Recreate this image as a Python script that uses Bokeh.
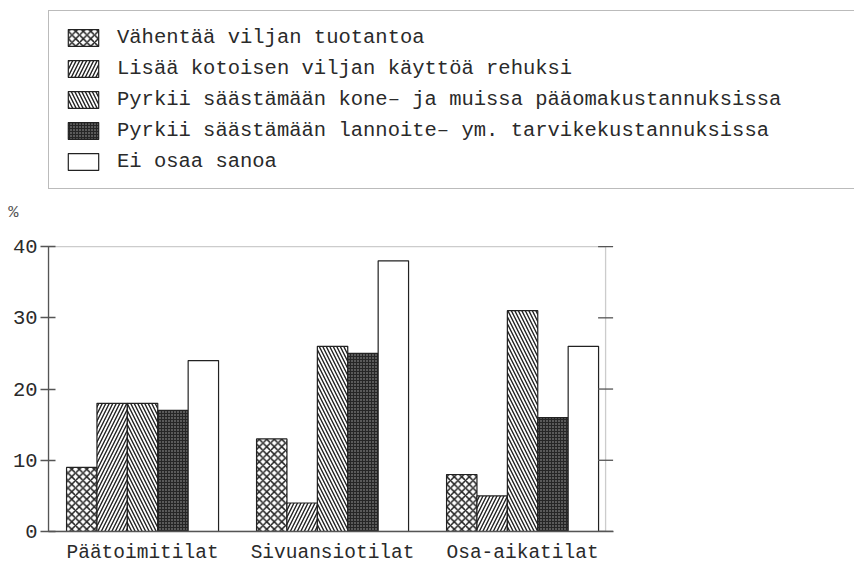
from bokeh.plotting import figure
from bokeh.models import (Range1d, FixedTicker, LinearAxis, Legend, LegendItem,
                          BoxAnnotation)
from bokeh.embed import file_html
from bokeh.resources import INLINE

categories = ["Päätoimitilat", "Sivuansiotilat", "Osa-aikatilat"]
series_names = [
    "Vähentää viljan tuotantoa",
    "Lisää kotoisen viljan käyttöä rehuksi",
    "Pyrkii säästämään kone– ja muissa pääomakustannuksissa",
    "Pyrkii säästämään lannoite– ym. tarvikekustannuksissa",
    "Ei osaa sanoa",
]
vahentaa = [9, 13, 8]
lisaa = [18, 4, 5]
kone = [18, 26, 31]
lannoite = [17, 25, 16]
ei_osaa = [24, 38, 26]
y_ticks = [0, 10, 20, 30, 40]
y_max = 40
unit_label = "%"

series = [vahentaa, lisaa, kone, lannoite, ei_osaa]
styles = [
    dict(fill_color="white", hatch_pattern="diagonal_cross", hatch_scale=7.5, hatch_weight=1.5, hatch_color="#222"),
    dict(fill_color="white", hatch_pattern="right_diagonal_line", hatch_scale=7, hatch_weight=1.4, hatch_color="#222"),
    dict(fill_color="white", hatch_pattern="left_diagonal_line", hatch_scale=7, hatch_weight=1.4, hatch_color="#222"),
    dict(fill_color="#5a5a5a", hatch_pattern="+", hatch_scale=3, hatch_weight=1.0, hatch_color="#262626"),
    dict(fill_color="white"),
]

FONT = "Liberation Mono"
TXT = "#2a2a2a"
AX = "#555"

# layout constants (pixels -> data)
X0, X1 = -0.495, 3.747          # frame spans full width right of the y axis
BOX_RIGHT = 2.437               # right edge of plot box
Y1 = 73.15                      # frame extends up to hold the legend
PCT_Y = 44.75                   # vertical position of the unit label

p = figure(width=854, height=566, output_backend="svg", toolbar_location=None,
           title=None, x_range=Range1d(X0, X1), y_range=Range1d(0, Y1),
           min_border_left=48, min_border_right=0, min_border_top=10, min_border_bottom=33)
p.xgrid.visible = False
p.ygrid.visible = False
p.outline_line_color = None
p.background_fill_color = "white"
p.border_fill_color = "white"

bw = 0.16
items = []
for k, (vals, name, st) in enumerate(zip(series, series_names, styles)):
    xs = [i + (k - 2) * bw for i in range(len(categories))]
    r = p.vbar(x=xs, top=vals, bottom=0, width=bw, line_color="#222", line_width=1.2, **st)
    items.append(LegendItem(label=name, renderers=[r]))

# plot box (top line and right line)
p.add_layout(BoxAnnotation(left=X0, right=BOX_RIGHT, bottom=0, top=y_max,
                           fill_alpha=0, line_color=AX, line_width=1.3))
# right-side tick marks
p.dash(x=[BOX_RIGHT] * len(y_ticks), y=y_ticks, size=15, angle=0,
       line_color=AX, line_width=1.3)

# x axis
p.xaxis.ticker = FixedTicker(ticks=list(range(len(categories))))
p.xaxis.major_label_overrides = {i: c for i, c in enumerate(categories)}
p.xaxis.bounds = (X0, BOX_RIGHT + 0.042)
p.xaxis.major_tick_in = 0
p.xaxis.major_tick_out = 0
p.xaxis.minor_tick_in = 0
p.xaxis.minor_tick_out = 0
p.xaxis.minor_tick_line_color = None
p.xaxis.axis_line_color = AX
p.xaxis.axis_line_width = 1.3
p.xaxis.major_label_standoff = 10
p.xaxis.major_label_text_font = FONT
p.xaxis.major_label_text_font_size = "19.5px"
p.xaxis.major_label_text_color = TXT

# y axis
p.yaxis.ticker = FixedTicker(ticks=y_ticks)
p.yaxis.bounds = (0, y_max)
p.yaxis.major_tick_in = 7
p.yaxis.major_tick_out = 8
p.yaxis.minor_tick_in = 0
p.yaxis.minor_tick_out = 0
p.yaxis.minor_tick_line_color = None
p.yaxis.axis_line_color = AX
p.yaxis.axis_line_width = 1.3
p.yaxis.major_tick_line_color = AX
p.yaxis.major_tick_line_width = 1.3
p.yaxis.major_label_standoff = 3
p.yaxis.major_label_text_font = FONT
p.yaxis.major_label_text_font_size = "20.5px"
p.yaxis.major_label_text_color = TXT

# unit label as an outer axis
ua = LinearAxis(ticker=FixedTicker(ticks=[PCT_Y]),
                major_label_overrides={PCT_Y: unit_label},
                axis_line_color=None, major_tick_line_color=None, minor_tick_line_color=None,
                major_tick_in=0, major_tick_out=0, minor_tick_in=0, minor_tick_out=0,
                major_label_standoff=-9,
                major_label_text_font=FONT, major_label_text_font_size="17px",
                major_label_text_color="#555")
p.add_layout(ua, "left")

lg = Legend(items=items, location="top_left", margin=0, padding=15, spacing=8,
            glyph_width=38, glyph_height=21, label_height=21, label_width=740,
            label_standoff=15, label_text_font=FONT, label_text_font_size="20.5px",
            label_text_color=TXT, border_line_color="#777", border_line_width=1.5,
            background_fill_color="white", background_fill_alpha=1.0)
p.add_layout(lg, "center")

open("out.html", "w").write(file_html(p, INLINE))
